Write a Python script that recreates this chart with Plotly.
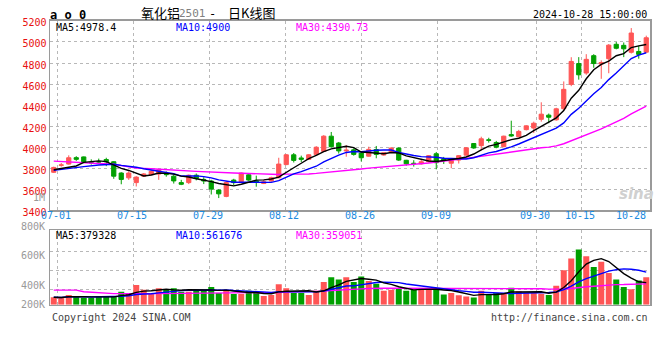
import plotly.graph_objects as go
import pandas as pd

# ---------------- data ----------------
dates = [
    "06-28",
    "07-01", "07-02", "07-03", "07-04", "07-05", "07-08", "07-09", "07-10", "07-11", "07-12",
    "07-15", "07-16", "07-17", "07-18", "07-19", "07-22", "07-23", "07-24", "07-25", "07-26",
    "07-29", "07-30", "07-31", "08-01", "08-02", "08-05", "08-06", "08-07", "08-08", "08-09",
    "08-12", "08-13", "08-14", "08-15", "08-16", "08-19", "08-20", "08-21", "08-22", "08-23",
    "08-26", "08-27", "08-28", "08-29", "08-30", "09-02", "09-03", "09-04", "09-05", "09-06",
    "09-09", "09-10", "09-11", "09-12", "09-13", "09-18", "09-19", "09-20", "09-23", "09-24",
    "09-25", "09-26", "09-27", "09-30", "10-08", "10-09", "10-10", "10-11", "10-14", "10-15",
    "10-16", "10-17", "10-18", "10-21", "10-22", "10-23", "10-24", "10-25", "10-28",
]
opens = [
    3762, 3828, 3840, 3901, 3908, 3855, 3862, 3883, 3862, 3755,
    3709, 3664, 3725, 3740, 3745, 3742, 3725, 3664, 3664, 3734,
    3694, 3679, 3593, 3533, 3688, 3673, 3738, 3680, 3655, 3680,
    3710, 3835, 3928, 3898, 3885, 3930, 3960, 4105, 4040, 3965,
    3975, 3946, 3915, 3978, 3926, 3950, 3992, 3876, 3848, 3842,
    3862, 3938, 3890, 3848, 3878, 3925, 4035, 4015, 4070, 4045,
    4005, 4120, 4100, 4167, 4182, 4265, 4305, 4260, 4366, 4597,
    4795, 4705, 4870, 4790, 4841, 4978, 4968, 4902, 4910, 4903,
]
highs = [
    3815, 3850, 3923, 3915, 3912, 3885, 3892, 3900, 3868, 3762,
    3770, 3725, 3755, 3785, 3795, 3770, 3740, 3690, 3740, 3750,
    3715, 3690, 3600, 3680, 3700, 3760, 3755, 3730, 3690, 3720,
    3900, 3935, 3945, 3920, 3935, 4010, 4115, 4145, 4050, 4020,
    3990, 3955, 4005, 4012, 3955, 4000, 3998, 3880, 3877, 3890,
    3925, 3955, 3908, 3895, 3925, 4000, 4040, 4100, 4090, 4060,
    4110, 4252, 4165, 4210, 4243, 4427, 4320, 4375, 4625, 4855,
    4856, 4884, 4884, 4825, 4980, 5000, 4995, 5132, 4963, 5060,
]
lows = [
    3755, 3815, 3835, 3870, 3850, 3835, 3845, 3820, 3700, 3648,
    3690, 3627, 3720, 3735, 3690, 3720, 3655, 3640, 3650, 3685,
    3650, 3551, 3517, 3525, 3640, 3670, 3680, 3625, 3650, 3672,
    3705, 3830, 3855, 3860, 3880, 3925, 3955, 3995, 3940, 3910,
    3920, 3865, 3910, 3895, 3920, 3945, 3870, 3825, 3816, 3835,
    3855, 3790, 3841, 3800, 3845, 3920, 3985, 3970, 4044, 3990,
    4000, 4100, 4095, 4160, 4136, 4243, 4228, 4253, 4350, 4580,
    4642, 4688, 4755, 4650, 4703, 4930, 4856, 4890, 4841, 4895,
]
closes = [
    3808, 3832, 3900, 3885, 3855, 3852, 3860, 3862, 3725, 3694,
    3755, 3716, 3746, 3771, 3786, 3740, 3680, 3648, 3734, 3703,
    3679, 3602, 3557, 3664, 3664, 3755, 3688, 3668, 3672, 3710,
    3840, 3928, 3875, 3885, 3928, 4000, 4105, 4005, 3965, 3972,
    3932, 3900, 3980, 3932, 3947, 3992, 3878, 3842, 3845, 3862,
    3920, 3853, 3880, 3890, 3920, 3995, 3993, 4080, 4066, 4000,
    4105, 4107, 4150, 4203, 4228, 4314, 4285, 4365, 4550, 4815,
    4688, 4835, 4795, 4805, 4970, 4940, 4935, 5085, 4882, 5040,
]
volumes_k = [
    128, 117, 167, 150, 117, 117, 134, 150, 150, 223,
    200, 339, 256, 184, 284, 267, 284, 223, 223, 256,
    250, 306, 200, 239, 184, 184, 239, 200, 150, 167,
    350, 284, 200, 200, 167, 239, 389, 473, 434, 473,
    389, 484, 406, 362, 239, 256, 284, 239, 256, 284,
    275, 275, 175, 200, 160, 140, 125, 240, 175, 200,
    200, 290, 230, 200, 200, 190, 165, 325, 595, 795,
    950, 835, 650, 740, 545, 434, 306, 267, 417, 473,
]
volumes = [v * 1000 for v in volumes_k]

# moving-average values before the window fills
ma5_head_idx = [0, 2, 3]
ma5_head = [3786, 3810, 3822]
ma10_head_idx = [0, 2, 4, 6, 8]
ma10_head = [3780, 3801, 3816, 3831, 3838]
ma30_head_idx = [0, 3, 6, 8, 11, 13, 15, 19, 24, 27, 28]
ma30_head = [3868, 3860, 3845, 3838, 3801, 3795, 3786, 3771, 3755, 3745, 3742]
vma30_head_idx = [0, 3, 4, 6, 8, 14, 20, 28]
vma30_head_k = [250, 250, 222, 200, 190, 190, 195, 200]

tick_dates = ["07-01", "07-15", "07-29", "08-12", "08-26", "09-09", "09-30", "10-15", "10-28"]
price_ticks = [3400, 3600, 3800, 4000, 4200, 4400, 4600, 4800, 5000, 5200]
vol_labels = ["1M", "800K", "600K", "400K", "200K"]

ma_text = {"MA5": "4978.4", "MA10": "4900", "MA30": "4390.73"}
vma_text = {"MA5": "379328", "MA10": "561676", "MA30": "359051"}

# ---------------- styling ----------------
W, H = 660, 360
MONO = "DejaVu Sans Mono"
CJK = "Noto Sans CJK SC"
RED = "#ff5555"
GREEN = "#00a000"
GRID = "#b8b8b8"
BORDER = "#9a9a9a"
BLUE_TXT = "#1a8ae0"


def px(x):
    return x / W


def py(y):
    return 1 - y / H


X_DOM = [px(50), px(650)]
PRICE_DOM = [py(213.5), py(17.5)]
VOL_DOM = [py(311), py(234.3)]
VOL_TOP = 1280000
VOL_GRID = [255000, 590000, 925000]

n = len(dates)
tick_pos = [dates.index(d) for d in tick_dates]


def ma_series(values, win, head_idx, head_vals):
    s = pd.Series(values, dtype=float).rolling(win).mean()
    xs = [dates[i] for i in head_idx] + dates[win - 1:]
    ys = list(head_vals) + list(s.iloc[win - 1:])
    return xs, ys


fig = go.Figure()

# price panel
fig.add_trace(go.Candlestick(
    x=dates, open=opens, high=highs, low=lows, close=closes,
    increasing=dict(line=dict(color=RED, width=1), fillcolor=RED),
    decreasing=dict(line=dict(color=GREEN, width=1), fillcolor=GREEN),
    xaxis="x", yaxis="y", showlegend=False, hoverinfo="skip",
))
for (win, hidx, hval, col) in [
    (30, ma30_head_idx, ma30_head, "#ff00ff"),
    (10, ma10_head_idx, ma10_head, "#0000ff"),
    (5, ma5_head_idx, ma5_head, "#000000"),
]:
    xs, ys = ma_series(closes, win, hidx, hval)
    fig.add_trace(go.Scatter(x=xs, y=ys, mode="lines", line=dict(color=col, width=1.4),
                             xaxis="x", yaxis="y", showlegend=False, hoverinfo="skip"))

# volume panel
bar_colors = [RED if c >= o else GREEN for o, c in zip(opens, closes)]
fig.add_trace(go.Bar(x=dates, y=volumes, marker=dict(color=bar_colors, line=dict(width=0)),
                     xaxis="x2", yaxis="y2", showlegend=False, hoverinfo="skip"))
vhead = [v * 1000 for v in vma30_head_k]
for (win, hidx, hval, col) in [
    (30, vma30_head_idx, vhead, "#ff00ff"),
    (10, None, None, "#0000ff"),
    (5, None, None, "#000000"),
]:
    if hidx is None:
        s = pd.Series(volumes, dtype=float).rolling(win, min_periods=1).mean()
        xs, ys = dates, list(s)
    else:
        xs, ys = ma_series(volumes, win, hidx, hval)
    fig.add_trace(go.Scatter(x=xs, y=ys, mode="lines", line=dict(color=col, width=1.4),
                             xaxis="x2", yaxis="y2", showlegend=False, hoverinfo="skip"))

# carriers for the date-grid axes
fig.add_trace(go.Scatter(x=tick_pos, y=[None] * len(tick_pos), mode="lines",
                         xaxis="x3", yaxis="y", showlegend=False, hoverinfo="skip"))
fig.add_trace(go.Scatter(x=tick_pos, y=[None] * len(tick_pos), mode="lines",
                         xaxis="x4", yaxis="y2", showlegend=False, hoverinfo="skip"))

common_x = dict(type="category", domain=X_DOM, range=[-0.5, n - 0.5], showticklabels=False,
                showgrid=False, zeroline=False, showline=True, mirror=True,
                linecolor=BORDER, linewidth=1.5, ticks="", fixedrange=True)
grid_x = dict(range=[0, n - 1], tickvals=tick_pos, showticklabels=False, showgrid=True,
              gridcolor=GRID, griddash="dot", gridwidth=1, zeroline=False,
              showline=False, ticks="", fixedrange=True)

fig.update_layout(
    width=W, height=H, margin=dict(l=0, r=0, t=0, b=0), autosize=False,
    paper_bgcolor="white", plot_bgcolor="white", showlegend=False,
    boxgap=0.2, bargap=0.2,
    xaxis=dict(anchor="y", rangeslider=dict(visible=False), **common_x),
    xaxis2=dict(anchor="y2", **common_x),
    xaxis3=dict(overlaying="x", anchor="y", **grid_x),
    xaxis4=dict(overlaying="x2", anchor="y2", **grid_x),
    yaxis=dict(domain=PRICE_DOM, anchor="x", range=[price_ticks[0], price_ticks[-1]],
               tickvals=price_ticks, tickfont=dict(family=MONO, size=10, color="#e81010"),
               ticklabelshift=2,
               showgrid=True, gridcolor=GRID, griddash="dot", gridwidth=1, zeroline=False,
               showline=True, mirror=True, linecolor=BORDER, linewidth=1.5, ticks="",
               fixedrange=True),
    yaxis2=dict(domain=VOL_DOM, anchor="x2", range=[0, VOL_TOP], tickvals=VOL_GRID,
                showticklabels=False, showgrid=True, gridcolor=GRID, griddash="dot",
                gridwidth=1, zeroline=False, showline=True, mirror=True,
                linecolor=BORDER, linewidth=1.5, ticks="", fixedrange=True),
)

ann = []


def text(x, y, s, color="#000", size=10, family=MONO, anchor="left", **kw):
    ann.append(dict(x=px(x), y=py(y), xref="paper", yref="paper", text=s, showarrow=False,
                    xanchor=anchor, yanchor="middle", font=dict(family=family, size=size, color=color),
                    **kw))


# header
text(48, 11, "<b>a o 0</b>", size=12)
text(139, 9, "氧化铝", size=13, family=CJK)
text(177, 10, "2501", color="#808080", size=11, family=MONO)
text(207, 10, "-", size=12, family=MONO)
text(226, 9, "日K线图", size=13, family=CJK)
text(649, 11, "2024-10-28 15:00:00", size=10, anchor="right")

# MA legends
cols = {"MA5": "#000000", "MA10": "#0000ff", "MA30": "#ff00ff"}
xs_leg = {"MA5": 54, "MA10": 174, "MA30": 294}
for k in ["MA5", "MA10", "MA30"]:
    text(xs_leg[k], 24, f"{k}:{ma_text[k]}", color=cols[k], size=10)
    text(xs_leg[k], 239, f"{k}:{vma_text[k]}", color=cols[k], size=10)

# volume axis labels
for lab, yy in zip(vol_labels, [200, 230, 260, 291, 311]):
    text(47, yy, lab, color="#999999", size=10, anchor="right")

# date labels (placed on the date-grid axis)
for d, pos in zip(tick_dates, tick_pos):
    last = pos == n - 1
    ann.append(dict(x=pos, y=py(219), xref="x3", yref="paper", text=d, showarrow=False,
                    xanchor="right" if last else "center", yanchor="middle",
                    xshift=-2 if last else -1.5,
                    font=dict(family=MONO, size=10, color=BLUE_TXT)))

# footer
text(50, 324, "Copyright 2024 SINA.COM", color="#444444", size=10)
text(650, 324, "http://finance.sina.com.cn", color="#444444", size=10, anchor="right")

# watermark
text(636, 197, "<b><i>sina</i></b>", color="#d0d0d0", size=15, family="DejaVu Sans", anchor="center")

fig.update_layout(annotations=ann)
fig.write_html(
    "out.html",
    config={"displayModeBar": False, "staticPlot": True},
    post_script="document.body.style.margin='0';document.body.style.padding='0';"
                "document.documentElement.style.overflow='hidden';",
)
